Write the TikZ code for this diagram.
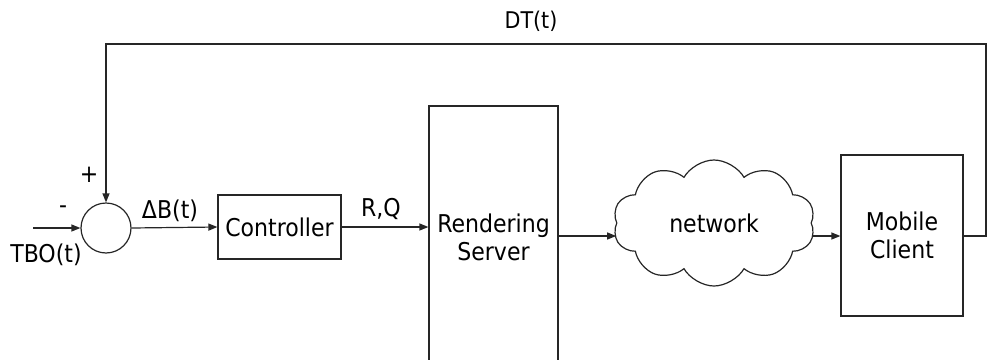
\documentclass[tikz,border=0pt]{standalone}
\usepackage{fontspec}
\setmainfont{DejaVu Sans Condensed}
\usetikzlibrary{shapes.symbols,arrows.meta}
\begin{document}
\begin{tikzpicture}[x=1pt,y=-1pt,
  line width=1.2pt, draw=black!85,
  every node/.style={font=\fontsize{24.5}{28}\selectfont, text=black},
  blk/.style={draw, rectangle, inner sep=0pt},
  lbl/.style={inner sep=0pt},
  arr/.style={-{Triangle[length=9pt,width=7pt]}}
]
\useasboundingbox (0,0) rectangle (988,359);
\node[draw, circle, minimum size=50pt, inner sep=0pt] (sum) at (106,228) {};
\coordinate (in) at (33,228);
\node[blk, minimum width=123pt, minimum height=64pt] (ctrl) at (279.5,227) {Controller};
\node[blk, minimum width=129pt, minimum height=262pt, align=center] (rs) at (493.5,237) {Rendering\\Server};
\node[cloud, draw, cloud puffs=10, cloud puff arc=120, aspect=1.6, inner sep=0pt, minimum width=202pt, minimum height=126pt] (net) at (714,223) {network};
\node[blk, minimum width=122pt, minimum height=161pt, align=center] (mc) at (902,235.5) {Mobile\\Client};
\coordinate (c1) at (986,236);
\coordinate (c2) at (986,44);
\coordinate (c3) at (106,44);
% labels
\node[lbl] (minus) at (63,210) {-};
\node[lbl] (plus) at (89,175) {+};
\node[lbl] (tbo) at (46,255) {TBO(t)};
\node[lbl] (db) at (170,211) {ΔB(t)};
\node[lbl] (rq) at (381,209) {R,Q};
\node[lbl, font=\fontsize{23}{26}\selectfont] (dt) at (531,21) {DT(t)};
% connectors
\draw[arr] (in) -- (sum.west);
\draw[arr] (sum.east) -- (ctrl.west);
\draw[arr] (ctrl.east) -- (ctrl.east -| rs.west);
\draw[arr] (rs.east |- c1) -- (net.west |- c1);
\draw[arr] (net.east |- c1) -- (mc.west |- c1);
\draw[arr] (mc.east |- c1) -- (c1) -- (c2) -- (c3) -- (sum.north);
\end{tikzpicture}
\end{document}
